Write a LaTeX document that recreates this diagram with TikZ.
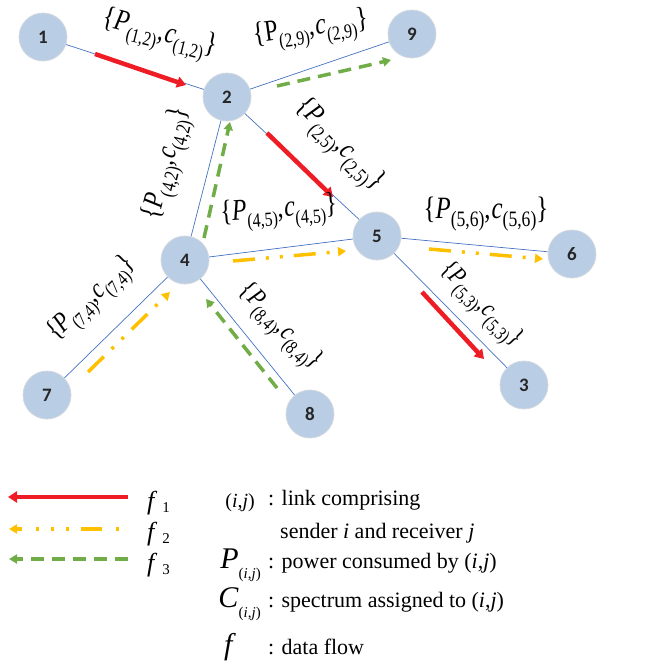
\documentclass[tikz,border=0pt]{standalone}
\usepackage{fontspec}
\setmainfont{Liberation Serif}
\newfontfamily\nodefont{Carlito}
\newfontfamily\labfont[FakeStretch=0.8]{Liberation Serif}
\usetikzlibrary{arrows.meta}

\definecolor{nodefill}{HTML}{B9CDE5}
\definecolor{nodeedge}{HTML}{D3D8DE}
\definecolor{linkblue}{HTML}{4472C4}
\definecolor{fred}{HTML}{EE1C25}
\definecolor{fyellow}{HTML}{FFC000}
\definecolor{fgreen}{HTML}{70AD47}

\newcommand{\mysub}[2]{\raisebox{-0.6ex}{\fontsize{#2}{#2}\selectfont(#1)}}
\newcommand{\PCl}[3]{{\labfont\fontsize{#2}{#2}\selectfont\{\textit{P}\mysub{#1}{#3},\kern1pt\textit{c}\mysub{#1}{#3}\}}}
\newcommand{\PCu}[3]{{\labfont\fontsize{#2}{#2}\selectfont\{P\mysub{#1}{#3},\kern1pt\textit{c}\mysub{#1}{#3}\}}}

\tikzset{
  nd/.style={circle, fill=nodefill, draw=nodeedge, line width=0.8pt, minimum size=48pt, inner sep=0pt,
    font=\nodefont\bfseries\fontsize{19}{19}\selectfont, text=black!85},
  link/.style={linkblue, line width=0.7pt},
  lab/.style={inner sep=0pt},
  fone/.style={fred, line width=4.5pt, -{Triangle[length=9pt,width=11pt]}},
  ftwo/.style={fyellow, line width=3.5pt, dash pattern=on 22pt off 11pt on 3pt off 11pt on 3pt off 11pt, -{Triangle[length=8pt,width=9pt]}},
  fthree/.style={fgreen, line width=3.5pt, dash pattern=on 13pt off 8pt, -{Triangle[length=8pt,width=9pt]}},
  legtxt/.style={inner sep=0pt, font=\fontsize{22}{22}\selectfont},
}

\begin{document}
\begin{tikzpicture}[x=1pt,y=-1pt]
\useasboundingbox (0,0) rectangle (647,667);

% nodes
\node[nd] (n1) at (43,37) {1};
\node[nd] (n2) at (227,97) {2};
\node[nd] (n9) at (412,34) {9};
\node[nd] (n4) at (185,260) {4};
\node[nd] (n5) at (377,236) {5};
\node[nd] (n6) at (572,254) {6};
\node[nd] (n3) at (524,385) {3};
\node[nd] (n7) at (47,395) {7};
\node[nd] (n8) at (310,414) {8};

% links
\draw[link] (n1) -- (n2);
\draw[link] (n2) -- (n9);
\draw[link] (n2) -- (n5);
\draw[link] (n4) -- (n2);
\draw[link] (n4) -- (n5);
\draw[link] (n5) -- (n6);
\draw[link] (n5) -- (n3);
\draw[link] (n7) -- (n4);
\draw[link] (n8) -- (n4);

% flow arrow end points
\coordinate (r12a) at (95,54);   \coordinate (r12b) at (186,85);
\coordinate (r25a) at (267,133); \coordinate (r25b) at (333,197);
\coordinate (r53a) at (422,292); \coordinate (r53b) at (484,359);
\coordinate (g29a) at (277,86);  \coordinate (g29b) at (391,60);
\coordinate (g42a) at (204,238); \coordinate (g42b) at (230,122);
\coordinate (g84a) at (277,388); \coordinate (g84b) at (206,299);
\coordinate (y74a) at (88,372);  \coordinate (y74b) at (170,292);
\coordinate (y45a) at (233,261); \coordinate (y45b) at (346,251);
\coordinate (y56a) at (429,249); \coordinate (y56b) at (543,259);

\draw[fone] (r12a) -- (r12b);
\draw[fone] (r25a) -- (r25b);
\draw[fone] (r53a) -- (r53b);
\draw[fthree] (g29a) -- (g29b);
\draw[fthree] (g42a) -- (g42b);
\draw[fthree] (g84a) -- (g84b);
\draw[ftwo] (y74a) -- (y74b);
\draw[ftwo] (y45a) -- (y45b);
\draw[ftwo] (y56a) -- (y56b);

% link labels
\node[lab, rotate=-14] (l12) at (159,36) {\PCl{1,2}{30}{20}};
\node[lab, rotate=8] (l29) at (311,31) {\PCu{2,9}{30}{20}};
\node[lab, rotate=-46] (l25) at (338,146) {\PCl{2,5}{29}{20}};
\node[lab, rotate=76] (l42) at (169,164) {\PCl{4,2}{29}{20}};
\node[lab, rotate=4] (l45) at (279,213) {\PCl{4,5}{30}{20}};
\node[lab] (l56) at (486,214) {\PCl{5,6}{31}{22}};
\node[lab, rotate=-46] (l53) at (480,306) {\PCl{5,3}{26}{19}};
\node[lab, rotate=44] (l74) at (93,300) {\PCl{7,4}{28}{19}};
\node[lab, rotate=-46] (l84) at (279,328) {\PCl{8,4}{27}{19}};

% legend arrows
\coordinate (lra) at (128,497); \coordinate (lrb) at (8,497);
\coordinate (lya) at (119,529); \coordinate (lyb) at (9,529);
\coordinate (lga) at (128,559); \coordinate (lgb) at (9,559);
\draw[fone] (lra) -- (lrb);
\draw[ftwo, dash pattern=on 3pt off 14pt on 21pt off 12pt on 3pt off 12pt on 3pt off 12pt] (lya) -- (lyb);
\draw[fthree] (lga) -- (lgb);

\node[anchor=base west, inner sep=0pt] (f1) at (147,509) {\fontsize{26}{26}\selectfont\textit{f}\kern5pt\raisebox{-0.3ex}{\fontsize{15}{15}\selectfont 1}};
\node[anchor=base west, inner sep=0pt] (f2) at (147,540) {\fontsize{26}{26}\selectfont\textit{f}\kern5pt\raisebox{-0.3ex}{\fontsize{15}{15}\selectfont 2}};
\node[anchor=base west, inner sep=0pt] (f3) at (147,571) {\fontsize{26}{26}\selectfont\textit{f}\kern5pt\raisebox{-0.3ex}{\fontsize{15}{15}\selectfont 3}};

% legend definitions
\node[anchor=base east, inner sep=0pt] (tij) at (255,507) {\fontsize{20}{20}\selectfont(\textit{i},\textit{j})};
\node[legtxt, anchor=base west] (dij) at (268,505) {: link comprising};
\node[legtxt, anchor=base west] (dij2) at (280,538) {sender \textit{i} and receiver \textit{j}};
\node[anchor=base east, inner sep=0pt] (tP) at (261,568) {\fontsize{30}{30}\selectfont\textit{P}\raisebox{-0.75ex}{\fontsize{15}{15}\selectfont(\textit{i},\textit{j})}};
\node[legtxt, anchor=base west] (dP) at (268,568) {: power consumed by (\textit{i},\textit{j})};
\node[anchor=base east, inner sep=0pt] (tC) at (261,607) {\fontsize{30}{30}\selectfont\textit{C}\raisebox{-0.75ex}{\fontsize{15}{15}\selectfont(\textit{i},\textit{j})}};
\node[legtxt, anchor=base west] (dC) at (268,607) {: spectrum assigned to (\textit{i},\textit{j})};
\node[anchor=base, inner sep=0pt] (tf) at (230,654) {\fontsize{30}{30}\selectfont\textit{f}};
\node[legtxt, anchor=base west] (df) at (268,654) {: data flow};
\end{tikzpicture}
\end{document}
